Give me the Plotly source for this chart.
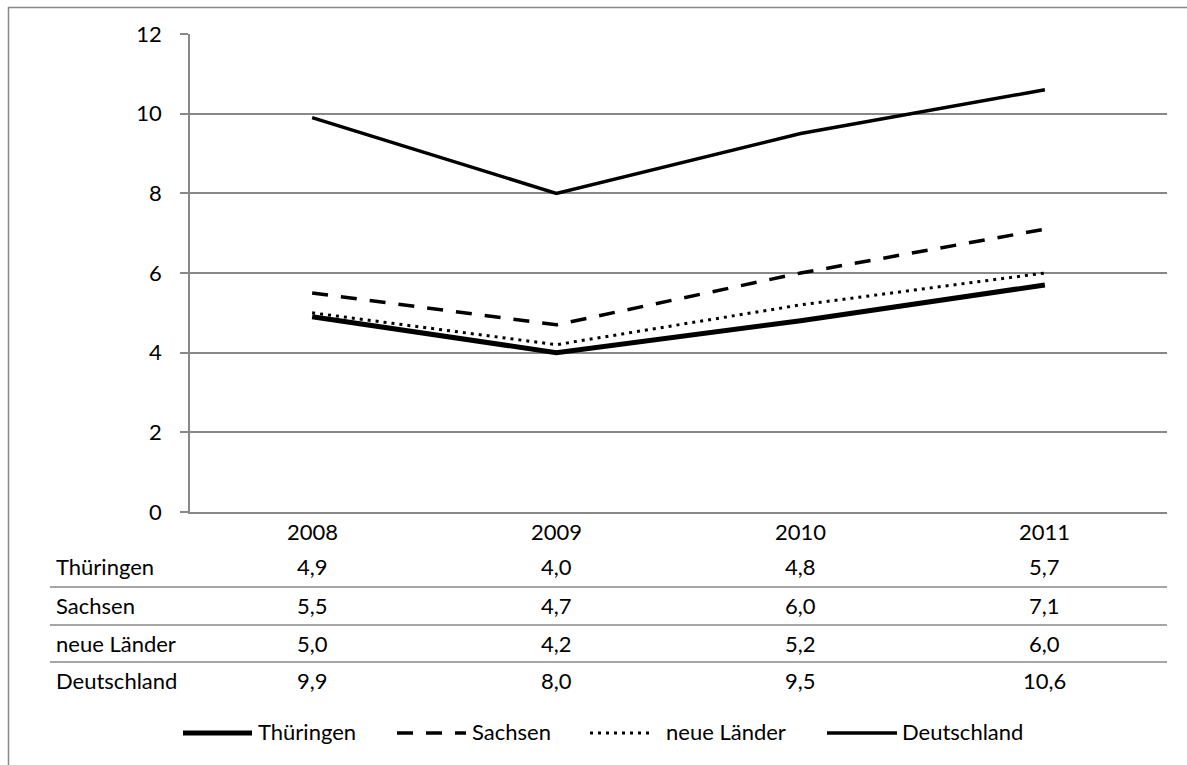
import plotly.graph_objects as go

years = ["2008", "2009", "2010", "2011"]
thueringen = [4.9, 4.0, 4.8, 5.7]
sachsen = [5.5, 4.7, 6.0, 7.1]
neue_laender = [5.0, 4.2, 5.2, 6.0]
deutschland = [9.9, 8.0, 9.5, 10.6]

series_names = ["Thüringen", "Sachsen", "neue Länder", "Deutschland"]
series_values = [thueringen, sachsen, neue_laender, deutschland]
line_styles = [dict(width=5, dash="solid"), dict(width=3.5, dash="16px,13px"),
               dict(width=3, dash="3px,5px"), dict(width=3.5, dash="solid")]

GRAY = "#888888"
FONT = "Lato, 'Open Sans', sans-serif"
FS = 22

# plot area in pixels (page has its margin removed below)
W, H = 1187, 765
L, R, T, B = 190, 20, 34, 253
plot_w = W - L - R
plot_h = H - T - B


def py(pix):
    # pixel y -> paper y
    return (H - B - pix) / plot_h


def px(pix):
    return (pix - L) / plot_w


fig = go.Figure()

xs = list(range(len(years)))
for name, vals, st in zip(series_names, series_values, line_styles):
    fig.add_trace(go.Scatter(x=xs, y=vals, mode="lines", name=name, showlegend=False,
                             line=dict(color="black", width=st["width"], dash=st["dash"])))

# data table below the chart
ann = []
row_y = [566, 605, 643, 680]
for i, yr in enumerate(years):
    ann.append(dict(x=i, y=py(531), xref="x", yref="paper", text=yr, showarrow=False,
                    xanchor="center", yanchor="middle"))
for r, (name, vals) in enumerate(zip(series_names, series_values)):
    ann.append(dict(x=px(54), y=py(row_y[r]), xref="paper", yref="paper", text=name,
                    showarrow=False, xanchor="left", yanchor="middle"))
    for i, v in enumerate(vals):
        ann.append(dict(x=i, y=py(row_y[r]), xref="x", yref="paper",
                        text=f"{v:.1f}".replace(".", ","), showarrow=False,
                        xanchor="center", yanchor="middle"))

shapes = []
for ly in [587, 625, 662]:
    shapes.append(dict(type="line", xref="paper", yref="paper", x0=px(50), x1=1, y0=py(ly), y1=py(ly),
                       line=dict(color=GRAY, width=1.5)))
# outer frame
shapes.append(dict(type="rect", xref="paper", yref="paper", x0=px(8.5), x1=px(1200), y0=py(7.5), y1=py(800),
                   line=dict(color=GRAY, width=1.5), layer="below"))

# legend drawn by hand: sample line + label
legend_pos = [(183, 252, 256), (397, 466, 470), (590, 654, 664), (827, 897, 900)]
for (x0, x1, xt), name, st in zip(legend_pos, series_names, line_styles):
    shapes.append(dict(type="line", xref="paper", yref="paper", x0=px(x0), x1=px(x1),
                       y0=py(733), y1=py(733),
                       line=dict(color="black", width=st["width"], dash=st["dash"])))
    ann.append(dict(x=px(xt), y=py(731), xref="paper", yref="paper", text=name, showarrow=False,
                    xanchor="left", yanchor="middle"))

fig.update_layout(
    width=W, height=H,
    margin=dict(l=L, r=R, t=T, b=B),
    plot_bgcolor="white", paper_bgcolor="white",
    font=dict(family=FONT, size=FS, color="black"),
    showlegend=False,
    xaxis=dict(range=[-0.5, 3.5], showticklabels=False, showgrid=False, zeroline=False,
               showline=True, linecolor=GRAY, linewidth=1.5, ticks="", fixedrange=True),
    yaxis=dict(range=[0, 12], tickvals=[0, 2, 4, 6, 8, 10, 12], showgrid=True, gridcolor=GRAY,
               gridwidth=1.5, zeroline=False, showline=True, linecolor=GRAY, linewidth=1.5,
               ticks="outside", ticklen=8, tickcolor=GRAY, tickwidth=1.5, ticklabelstandoff=14),
    annotations=ann,
    shapes=shapes,
)

fig.write_html("out.html", config={"displayModeBar": False},
               post_script="document.body.style.margin='0';")
